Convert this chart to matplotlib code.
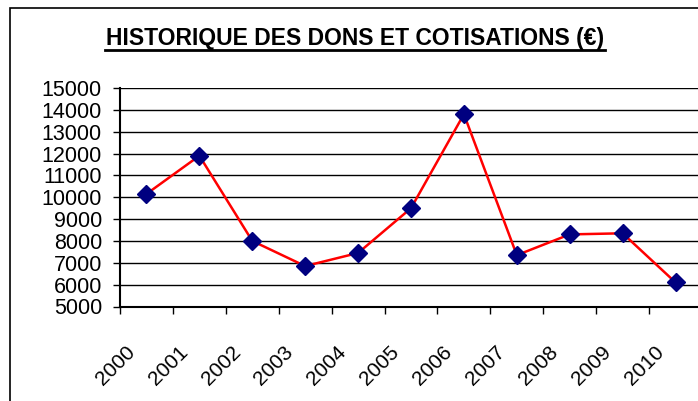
import matplotlib
matplotlib.use("Agg")
import matplotlib.pyplot as plt
from matplotlib.patches import Rectangle
from matplotlib.lines import Line2D
import matplotlib.transforms as mtransforms
import numpy as np

years = ["2000", "2001", "2002", "2003", "2004", "2005", "2006", "2007", "2008", "2009", "2010"]
values = [10150, 11900, 8000, 6850, 7450, 9500, 13800, 7350, 8300, 8350, 6100]
yticks = list(range(5000, 15001, 1000))
title = "HISTORIQUE DES DONS ET COTISATIONS (€)"

plt.rcParams['font.family'] = ['Liberation Sans', 'DejaVu Sans']

W, H = 698, 401
fig = plt.figure(figsize=(W / 100, H / 100), dpi=100)

# outer chart border (extends beyond the image on right and bottom)
fig.patches.append(Rectangle((10 / W, -0.1), 1.0, 1 - 8 / H + 0.1, transform=fig.transFigure,
                             fill=False, edgecolor="black", linewidth=1.2, clip_on=False))

ax = fig.add_axes([120 / W, 1 - 306.5 / H, (702 - 120) / W, (306.5 - 88) / H])
x = np.arange(len(years))
ax.plot(x, values, color="red", linewidth=1.8, marker="D", markersize=9,
        markerfacecolor="#000080", markeredgecolor="#000080", zorder=3, clip_on=False)

ax.set_xlim(-0.5, len(years) - 0.5)
ax.set_ylim(5000, 15000)
ax.set_yticks(yticks)
ax.set_yticklabels([str(v) for v in yticks], fontsize=15.5)
ax.tick_params(axis="y", length=5, width=1, direction="out", pad=8)
ax.yaxis.grid(True, color="black", linewidth=1)
ax.set_axisbelow(True)

ax.set_xticks(x)
ax.set_xticklabels(years, fontsize=15, rotation=45, ha="right")
ax.set_xticks(np.arange(len(years) + 1) - 0.5, minor=True)
ax.tick_params(axis="x", which="major", length=0, pad=26)
ax.tick_params(axis="x", which="minor", length=5, width=1, direction="out")
offset = mtransforms.ScaledTranslation(-0.08, 0, fig.dpi_scale_trans)
for lab in ax.get_xticklabels():
    lab.set_transform(lab.get_transform() + offset)

for side in ["top", "right"]:
    ax.spines[side].set_visible(False)
ax.spines["left"].set_linewidth(1.5)
ax.spines["bottom"].set_linewidth(1.5)

t = fig.text(355 / W, 1 - 38 / H, title, fontsize=16.5, fontweight="bold",
             ha="center", va="center")
yline = 1 - 49.5 / H
fig.lines.append(Line2D([105 / W, 605 / W], [yline, yline], transform=fig.transFigure,
                        color="black", linewidth=2))

fig.savefig("out.png", dpi=100)
